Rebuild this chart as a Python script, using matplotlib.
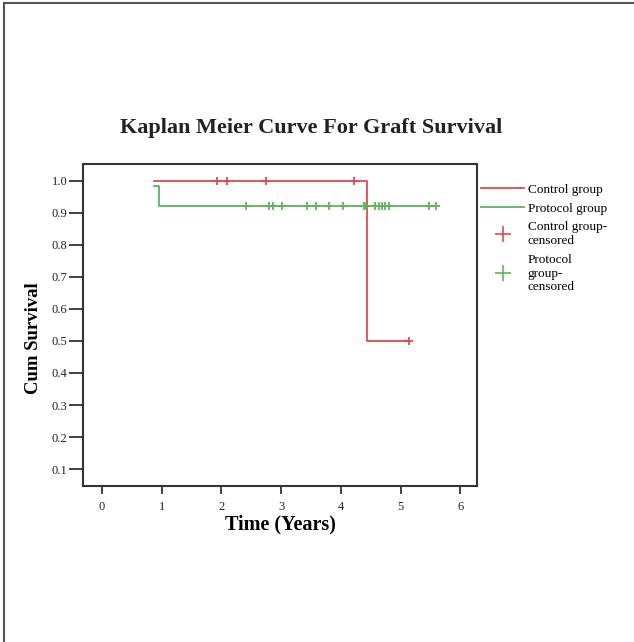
import numpy as np
import matplotlib
matplotlib.use("Agg")
import matplotlib.pyplot as plt
from matplotlib.lines import Line2D

# step curves (time in years, cumulative survival)
control_t = [0.87, 4.44, 4.44, 5.14]
control_s = [1.0, 1.0, 0.5, 0.5]
protocol_t = [0.87, 0.95, 0.95, 5.59]
protocol_s = [0.985, 0.985, 0.923, 0.923]

# censored observations
control_cens_t = [1.92, 2.10, 2.75, 4.22, 5.14]
control_cens_s = [1.0, 1.0, 1.0, 1.0, 0.5]
protocol_cens_t = [2.41, 2.79, 2.86, 3.02, 3.44, 3.58, 3.80, 4.04, 4.38, 4.42,
                   4.57, 4.64, 4.69, 4.74, 4.81, 5.48, 5.59]
protocol_cens_s = [0.923] * len(protocol_cens_t)

RED = "#e04a50"
GREEN = "#5cb45c"

plt.rcParams["font.family"] = ["Liberation Serif", "DejaVu Serif"]

fig = plt.figure(figsize=(6.34, 6.42), dpi=100)
ax = fig.add_axes([0.1309, 0.2430, 0.6215, 0.5016])

ax.plot(control_t, control_s, color=RED, lw=1.3)
ax.plot(protocol_t, protocol_s, color=GREEN, lw=1.3)
ax.plot(control_cens_t, control_cens_s, ls="none", marker="+", ms=6, mew=1.3, color=RED)
ax.plot(protocol_cens_t, protocol_cens_s, ls="none", marker="+", ms=6, mew=1.3, color=GREEN)

ax.set_xlim(-0.32, 6.28)
ax.set_ylim(0.047, 1.053)
ax.set_xticks(range(0, 7))
ax.set_yticks(np.arange(0.1, 1.01, 0.1))
ax.set_yticklabels([f"{v:.1f}" for v in np.arange(0.1, 1.01, 0.1)])
ax.tick_params(labelsize=9, width=1.3, colors="#333333", labelcolor="#222222")
ax.tick_params(axis="y", length=10, pad=1)
ax.tick_params(axis="x", length=6, pad=5)
for s in ax.spines.values():
    s.set_linewidth(1.5)
    s.set_color("#333333")

ax.set_xlabel("Time (Years)", fontsize=14.5, fontweight="bold", labelpad=1)
ax.set_ylabel("Cum Survival", fontsize=13.5, fontweight="bold")
ax.yaxis.set_label_coords(-0.104, 0.46)
fig.text(0.49, 0.80, "Kaplan Meier Curve For Graft Survival", ha="center",
         va="center", fontsize=16, fontweight="bold", color="#222222")

handles = [
    Line2D([], [], color=RED, lw=1.3),
    Line2D([], [], color=GREEN, lw=1.3),
    Line2D([], [], ls="none", marker="+", ms=11, mew=1.2, color=RED),
    Line2D([], [], ls="none", marker="+", ms=11, mew=1.2, color=GREEN),
]
labels = ["Control group", "Protocol group", "Control group-\ncensored",
          "Protocol\ngroup-\ncensored"]
fig.legend(handles, labels, loc="upper left", bbox_to_anchor=(0.751, 0.722),
           frameon=False, fontsize=9.5, handlelength=3.2, handletextpad=0.3,
           labelspacing=0.5, borderaxespad=0)

# image frame (top and left edges)
fig.add_artist(Line2D([0.006, 1.0], [0.995, 0.995], color="#555555", lw=1.5,
                      transform=fig.transFigure))
fig.add_artist(Line2D([0.006, 0.006], [0.0, 0.995], color="#555555", lw=1.5,
                      transform=fig.transFigure))

fig.savefig("out.png", dpi=100)
